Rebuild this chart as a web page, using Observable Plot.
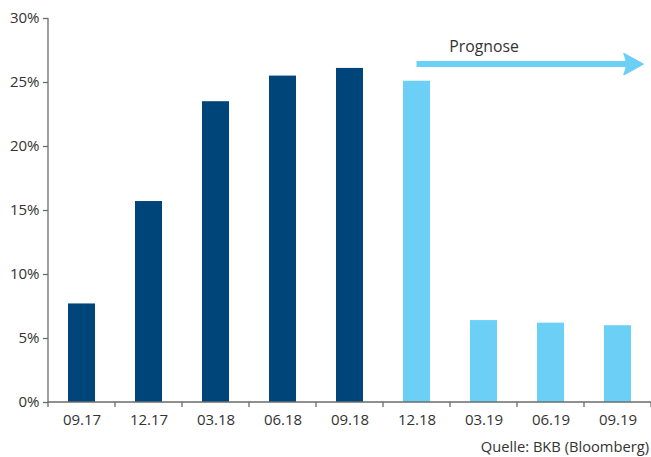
<!DOCTYPE html>
<html>
<head>
<meta charset="utf-8">
<script src="https://cdn.jsdelivr.net/npm/d3@7"></script>
<script src="https://cdn.jsdelivr.net/npm/@observablehq/plot@0.6"></script>
<style>
  body { margin: 0; background: #fff; font-family: "Open Sans", sans-serif; }
  #chart svg { display: block; }
  .source { width: 649px; text-align: right; font-size: 14.7px; color: #333; line-height: 22px; }
</style>
</head>
<body>
<div id="chart"></div>
<div class="source">Quelle: BKB (Bloomberg)</div>
<script>
// Quarter labels
const quarters = ["09.17", "12.17", "03.18", "06.18", "09.18", "12.18", "03.19", "06.19", "09.19"];
// Value per quarter, in percent
const values = [7.7, 15.7, 23.5, 25.5, 26.1, 25.1, 6.4, 6.2, 6.0];
// Which quarters are forecasts
const forecast = [false, false, false, false, false, true, true, true, true];
// Y axis ticks
const yTicks = [0, 5, 10, 15, 20, 25, 30];

const dark = "#00457a";
const light = "#6bcff6";
const axisColor = "#6b6b6b";
const textColor = "#333";

const data = quarters.map((q, i) => ({quarter: q, value: values[i], forecast: forecast[i]}));

// Axis line on the left and ticks between the bands
function bandFrame(index, scales) {
  const x = scales.x, y = scales.y;
  const starts = quarters.map(q => x(q));
  const step = starts[1] - starts[0];
  const edges = [...starts, starts[starts.length - 1] + step];
  const g = d3.create("svg:g").attr("stroke", axisColor).attr("stroke-width", 1.3);
  g.append("line")
    .attr("x1", edges[0]).attr("x2", edges[0])
    .attr("y1", y(30)).attr("y2", y(0));
  g.append("line")
    .attr("x1", edges[0]).attr("x2", edges[edges.length - 1])
    .attr("y1", y(0)).attr("y2", y(0));
  for (const e of edges) {
    g.append("line").attr("x1", e).attr("x2", e).attr("y1", y(0)).attr("y2", y(0) + 5);
  }
  return g.node();
}

const forecastStart = quarters[forecast.indexOf(true)];
const lastQuarter = quarters[quarters.length - 1];
const arrowLevel = 26.4;

// Forecast arrow: from the first forecast quarter past the last one, with a filled head
function forecastArrow(index, scales) {
  const x = scales.x, y = scales.y;
  const step = x(quarters[1]) - x(quarters[0]);
  const x0 = x(forecastStart) + step / 2;
  const tip = x(lastQuarter) + step / 2 + 25.5;
  const yy = y(arrowLevel);
  const g = d3.create("svg:g");
  g.append("line")
    .attr("x1", x0).attr("x2", tip - 14)
    .attr("y1", yy).attr("y2", yy)
    .attr("stroke", light).attr("stroke-width", 6);
  g.append("path")
    .attr("d", `M${tip},${yy} L${tip - 19},${yy - 10.5} Q${tip - 14},${yy} ${tip - 19},${yy + 10.5} Z`)
    .attr("fill", light)
    .attr("stroke", light).attr("stroke-width", 1.5).attr("stroke-linejoin", "round");
  return g.node();
}

const chart = Plot.plot({
  width: 651,
  height: 435,
  marginLeft: 48,
  marginRight: 0,
  marginTop: 18,
  marginBottom: 33,
  style: {fontFamily: "'Open Sans', sans-serif", fontSize: "15px", color: textColor, background: "#fff"},
  x: {domain: quarters, padding: 0, label: null},
  y: {domain: [0, 30], label: null},
  marks: [
    Plot.barY(data, {x: "quarter", y: "value", fill: d => d.forecast ? light : dark, insetLeft: 20, insetRight: 20}),
    Plot.axisY({ticks: yTicks, tickFormat: d => d + "%", tickSize: 5, tickPadding: 4, stroke: axisColor, strokeWidth: 1.3, fontSize: 15, fill: textColor}),
    Plot.axisX({tickSize: 0, tickPadding: 12, fontSize: 15, fill: textColor}),
    bandFrame,
    forecastArrow,
    Plot.text(["Prognose"], {x: () => quarters[6], y: () => 27.8, text: d => d, fontSize: 15.8, fill: textColor, textAnchor: "middle"})
  ]
});

document.getElementById("chart").append(chart);
</script>
</body>
</html>
